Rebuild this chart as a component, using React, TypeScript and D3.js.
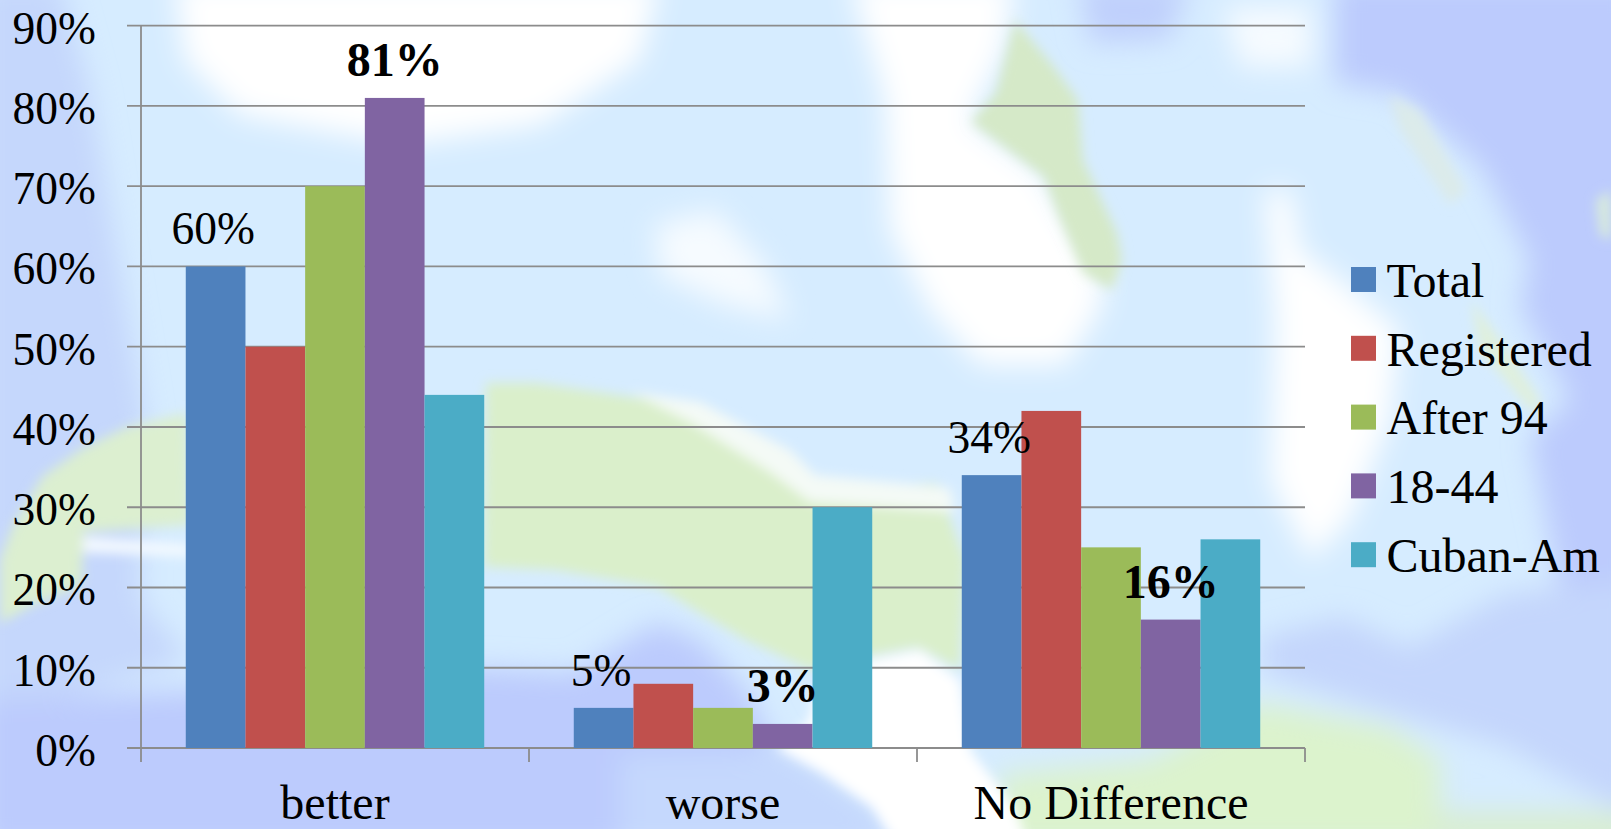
import React from "react";
import * as d3 from "d3";

const W = 1611, H = 829;
const categories = ["better", "worse", "No Difference"];
const seriesNames = ["Total", "Registered", "After 94", "18-44", "Cuban-Am"];
const seriesColors = ["#4f81bd", "#c0504d", "#9bbb59", "#8064a2", "#4bacc6"];
const total = [60, 5, 34];
const registered = [50, 8, 42];
const after94 = [70, 5, 25];
const age1844 = [81, 3, 16];
const cubanAm = [44, 30, 26];
const seriesValues = [total, registered, after94, age1844, cubanAm];
const yTicks = [0, 10, 20, 30, 40, 50, 60, 70, 80, 90];
// [series index, category index, bold]
const dataLabels: [number, number, boolean][] = [
  [0, 0, false], [3, 0, true], [0, 1, false], [3, 1, true], [0, 2, false], [3, 2, true],
];

// Blurred map backdrop, broad shapes: [path, fill]
const backdropSoft: [string, string][] = [
  ["M-20 -20L60 -20L90 90L125 300L145 420L140 600L190 660L-20 720Z", "#c5d7fc"],
  ["M-20 700L200 690L484 668L574 673L639 633L658 623L700 640L746 690L777 748L640 760L640 850L-20 850Z", "#bccbfd"],
  ["M620 755L790 750L880 810L900 850L620 850Z", "#c5d8fd"],
  ["M175 -20L660 -20L640 60L540 125L400 145L240 115L185 60Z", "#ffffff"],
  ["M1335 -20L1335 83L1398 93L1481 167L1530 260L1520 307L1570 400L1530 437L1560 590L1640 600L1640 -20Z", "#bccbfd"],
  ["M1078 -20L1190 -20L1170 40L1090 43Z", "#c0d0fc"],
  ["M1224 7L1311 7L1311 67L1240 67Z", "#f6fbff"],
  ["M850 -20L1015 -20L1005 50L970 120L1040 170L1105 280L1100 310L1065 365L980 365L930 310L890 230L885 100Z", "#ffffff"],
  ["M1265 190L1290 190L1300 250L1340 280L1400 330L1390 420L1350 520L1310 560L1270 480L1275 320Z", "#ffffff"],
  ["M655 225L715 210L765 265L790 320L725 305L660 275Z", "#f6fbff"],
  ["M1261 637L1343 617L1409 647L1507 593L1640 580L1640 820L1507 747L1390 713L1261 673Z", "#c4d6fc"],
  ["M1000 775L1150 760L1261 703L1312 713L1390 727L1440 760L1440 850L1000 850Z", "#dcf3cd"],
  ["M1429 812L1640 812L1640 850L1429 850Z", "#d9eed0"],
];

// Blurred map backdrop, sharper land and coast: [path, fill]
const backdropFine: [string, string][] = [
  ["M486 383L536 383L631 397L689 407L746 433L784 453L804 483L872 487L937 483L965 560L960 670L918 647L872 655L811 670L746 640L700 613L658 587L555 570L484 567Z", "#daefcb"],
  ["M83 448L127 427L187 413L190 525L83 532L82 585L33 605L0 623L0 560L13 525L43 476Z", "#dcefd0"],
  ["M83 537L190 545L190 556L83 552Z", "#f6fbff"],
  ["M630 392L700 402L790 450L815 475L950 488L955 512L810 502L770 472L690 422Z", "#f4faf6"],
  ["M815 690L870 660L920 650L960 680L970 750L1014 807L1030 850L899 850L872 807L823 773L777 748L810 720Z", "#ffffff"],
  ["M1015 20L1054 67L1078 100L1083 160L1117 233L1122 260L1112 290L1083 273L1059 217L1044 177L971 122L996 93Z", "#d5e9c8"],
  ["M1389 95L1420 110L1466 190L1450 205L1400 130Z", "#dcebea"],
  ["M1471 300L1500 340L1540 400L1535 415L1480 350Z", "#e0f0dc"],
  ["M1596 200L1611 190L1611 240L1600 235Z", "#d8ebdc"],
];

const x0 = d3.scaleBand<number>().domain(d3.range(categories.length)).range([141, 1305]);
const x1 = d3.scaleBand<number>().domain(d3.range(seriesNames.length)).range([0, x0.bandwidth()]).paddingOuter(0.75);
const y = d3.scaleLinear().domain([0, 90]).range([748, 25.7]);

const axisColor = "#8c8c8c";
const serif = "'Liberation Serif', 'Times New Roman', serif";

export default function App() {
  const boundaries = d3.range(categories.length + 1).map((i) => 141 + i * x0.bandwidth());
  return (
    <svg width={W} height={H} viewBox={`0 0 ${W} ${H}`} fontFamily={serif}
      style={{ position: "fixed", left: 0, top: 0, display: "block" }}>
      <defs>
        <filter id="soft" x="-5%" y="-5%" width="110%" height="110%" filterUnits="objectBoundingBox">
          <feGaussianBlur stdDeviation="14" />
        </filter>
        <filter id="fine" x="-5%" y="-5%" width="110%" height="110%" filterUnits="objectBoundingBox">
          <feGaussianBlur stdDeviation="6" />
        </filter>
      </defs>
      <rect width={W} height={H} fill="#d6ecff" />
      <g filter="url(#soft)">
        {backdropSoft.map(([d, fill], i) => <path key={i} d={d} fill={fill} />)}
      </g>
      <g filter="url(#fine)">
        {backdropFine.map(([d, fill], i) => <path key={i} d={d} fill={fill} />)}
      </g>

      {yTicks.map((t) => (
        <g key={t}>
          <line x1={127} x2={1305} y1={y(t)} y2={y(t)} stroke={axisColor} strokeWidth={1.8} />
          <text x={96} y={y(t) + 18} textAnchor="end" fontSize={45.5} fill="#000">{t}%</text>
        </g>
      ))}
      <line x1={141} x2={141} y1={y(90)} y2={762} stroke={axisColor} strokeWidth={1.8} />
      {boundaries.slice(1).map((b) => (
        <line key={b} x1={b} x2={b} y1={748} y2={762} stroke={axisColor} strokeWidth={1.8} />
      ))}

      {seriesValues.map((vals, s) => vals.map((v, c) => (
        <rect key={`${s}-${c}`} x={x0(c)! + x1(s)!} width={x1.bandwidth()} y={y(v)} height={y(0) - y(v)} fill={seriesColors[s]} />
      )))}

      {dataLabels.map(([s, c, bold]) => (
        <text key={`${s}-${c}`} x={x0(c)! + x1(s)! + x1.bandwidth() / 2 - (bold ? 0 : 2.5)} y={y(seriesValues[s][c]) - 22}
          textAnchor="middle" fontSize={bold ? 48 : 45.5} fontWeight={bold ? 700 : 400} fill="#000">
          {seriesValues[s][c]}%
        </text>
      ))}

      {categories.map((c, i) => (
        <text key={c} x={x0(i)! + x0.bandwidth() / 2} y={818.5} textAnchor="middle" fontSize={48} fill="#000">{c}</text>
      ))}

      {seriesNames.map((n, i) => (
        <g key={n}>
          <rect x={1351} y={267 + i * 68.8} width={25} height={25} fill={seriesColors[i]} />
          <text x={1386.5} y={297 + i * 68.7} fontSize={48} fill="#000">{n}</text>
        </g>
      ))}
    </svg>
  );
}
